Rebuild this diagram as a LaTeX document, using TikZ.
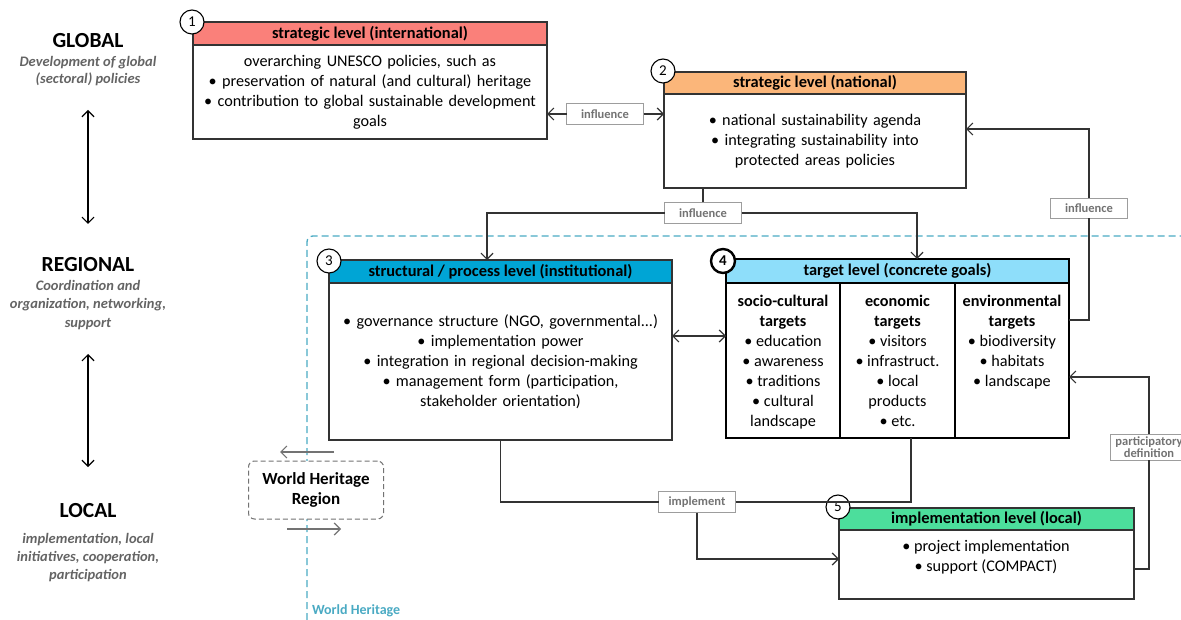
\documentclass[tikz,border=0pt]{standalone}
\usepackage{fontspec}
\setmainfont{Carlito}
\usetikzlibrary{arrows.meta,calc}
\definecolor{hA}{RGB}{250,128,122}
\definecolor{hB}{RGB}{251,182,122}
\definecolor{hC}{RGB}{0,165,213}
\definecolor{hD}{RGB}{142,222,250}
\definecolor{hE}{RGB}{76,222,156}
\definecolor{whc}{RGB}{74,170,195}
\definecolor{ln}{RGB}{51,51,51}
\definecolor{lbl}{RGB}{115,115,115}
\definecolor{subc}{RGB}{100,100,100}
\begin{document}
\begin{tikzpicture}[x=1pt,y=-1pt,
 every node/.style={inner sep=0pt, outer sep=0pt},
 hdr/.style={draw=ln, line width=1.3pt, anchor=north west, font=\fontsize{16.4}{18}\selectfont\bfseries},
 bodybox/.style={draw=ln, line width=1.3pt, fill=white, anchor=north west, align=center, font=\fontsize{16.2}{20}\selectfont},
 numc/.style={circle, draw=black, line width=1.1pt, fill=white, minimum size=24pt, font=\fontsize{15}{15}\selectfont},
 lab/.style={draw=lbl!70, line width=0.9pt, fill=white, text=lbl, font=\fontsize{12.5}{13}\selectfont\bfseries, minimum width=77pt, minimum height=21pt, align=center},
 conn/.style={draw=ln, line width=1.2pt},
 arr/.style={conn, -{Straight Barb[length=6pt,width=12pt,line width=1.2pt]}},
 darr/.style={conn, {Straight Barb[length=6pt,width=12pt,line width=1.2pt]}-{Straight Barb[length=6pt,width=12pt,line width=1.2pt]}},
 ttl/.style={font=\fontsize{21.5}{24}\selectfont\bfseries},
 subt/.style={align=center, text=subc, font=\fontsize{14.5}{18}\selectfont\bfseries\itshape},
 colt/.style={align=center, anchor=north, font=\fontsize{16.2}{20}\selectfont},
]
\useasboundingbox (0,0) rectangle (1181,620);

% World Heritage dashed border
\draw[whc, line width=1.3pt, dash pattern=on 7pt off 4pt, rounded corners=6pt] (307,620) -- (307,236) -- (1181,236);
\node[anchor=west, text=whc, font=\fontsize{14}{16}\selectfont\bfseries] (whl) at (312,611) {World Heritage};

% left column
\node[ttl] (gl) at (88,41) {GLOBAL};
\node[subt, font=\fontsize{14.5}{17}\selectfont\bfseries\itshape] (gls) at (88,71) {Development of global\\(sectoral) policies};
\node[ttl] (rg) at (88,265) {REGIONAL};
\node[subt, font=\fontsize{14.5}{18.5}\selectfont\bfseries\itshape] (rgs) at (88,305) {Coordination and\\organization, networking,\\support};
\node[ttl] (lc) at (88,511) {LOCAL};
\node[subt] (lcs) at (88,558) {implementation, local\\initiatives, cooperation,\\participation};
\coordinate (a1t) at (88,110);
\coordinate (a1b) at (88,224);
\coordinate (a2t) at (88,354);
\coordinate (a2b) at (88,467);
\draw[darr, draw=black] (a1t) -- (a1b);
\draw[darr, draw=black] (a2t) -- (a2b);

% Box 1
\node[hdr, fill=hA, minimum width=354pt, minimum height=23pt] (h1) at (193,22) {strategic level (international)};
\node[bodybox, minimum width=354pt, minimum height=94pt, text width=345pt] (b1) at (193,45) {overarching UNESCO policies, such as\\• preservation of natural (and cultural) heritage\\• contribution to global sustainable development\\goals};
\node[numc] (n1) at (192,22) {1};

% Box 2
\node[hdr, fill=hB, minimum width=302pt, minimum height=22pt] (h2) at (664,72) {strategic level (national)};
\node[bodybox, minimum width=302pt, minimum height=94pt, text width=290pt] (b2) at (664,94) {• national sustainability agenda\\• integrating sustainability into\\protected areas policies};
\node[numc] (n2) at (663,71) {2};

% Box 3
\node[hdr, fill=hC, minimum width=343pt, minimum height=23pt] (h3) at (329,260) {structural / process level (institutional)};
\node[bodybox, minimum width=343pt, minimum height=157pt, text width=335pt] (b3) at (329,283) {• governance structure (NGO, governmental...)\\• implementation power\\• integration in regional decision-making\\• management form (participation,\\stakeholder orientation)};
\node[numc] (n3) at (329,261) {3};

% Box 4
\node[hdr, draw=black, line width=2.6pt, fill=hD, minimum width=343pt, minimum height=24pt] (h4) at (726,259) {target level (concrete goals)};
\node[bodybox, draw=black, line width=2.6pt, minimum width=343pt, minimum height=155pt] (b4) at (726,283) {};
\coordinate (d1t) at (840,283);
\coordinate (d1b) at (840,438);
\coordinate (d2t) at (955,283);
\coordinate (d2b) at (955,438);
\draw[black, line width=2.6pt] (d1t) -- (d1b);
\draw[black, line width=2.6pt] (d2t) -- (d2b);
\node[colt] (c1) at (783,295) {\textbf{socio-cultural}\\\textbf{targets}\\• education\\• awareness\\• traditions\\• cultural\\landscape};
\node[colt] (c2) at (897.5,295) {\textbf{economic}\\\textbf{targets}\\• visitors\\• infrastruct.\\• local\\products\\• etc.};
\node[colt] (c3) at (1012,295) {\textbf{environmental}\\\textbf{targets}\\• biodiversity\\• habitats\\• landscape};
\node[numc, line width=2.4pt] (n4) at (723,261) {\textbf{4}};

% Box 5
\node[hdr, fill=hE, minimum width=295pt, minimum height=22pt] (h5) at (839,508) {implementation level (local)};
\node[bodybox, minimum width=295pt, minimum height=69pt] (b5) at (839,530) {};
\node[align=center, font=\fontsize{16.2}{20}\selectfont] (t5) at (986,557) {• project implementation\\• support (COMPACT)};
\node[numc] (n5) at (838,507) {5};

% World Heritage Region
\node[draw=lbl, line width=1pt, dash pattern=on 5pt off 3pt, rounded corners=6pt, fill=white, minimum width=135pt, minimum height=58pt, align=center, font=\fontsize{17}{20}\selectfont\bfseries] (whr) at (316,490) {World Heritage\\Region};
\coordinate (g1s) at (334,452);
\coordinate (g1e) at (280,452);
\coordinate (g2s) at (287,529);
\coordinate (g2e) at (341,529);
\draw[arr, draw=lbl] (g1s) -- (g1e);
\draw[arr, draw=lbl] (g2s) -- (g2e);

% influence 1 <-> 2
\node[lab] (L1) at (605,114) {influence};
\draw[arr] (L1.west) -- (L1.west -| b1.east);
\draw[arr] (L1.east) -- (L1.east -| b2.west);

% influence from 2 down
\node[lab] (L2) at (703,213) {influence};
\draw[conn] (L2.north) -- (L2.north |- b2.south);
\draw[arr] (L2.west) -| ([xshift=-13.5pt]h3.north);
\draw[arr] (L2.east) -| ([xshift=19.5pt]h4.north);

% influence from 4 to 2
\node[lab, minimum height=20pt] (L3) at (1089,208) {influence};
\coordinate (r4) at (1069,320);
\coordinate (r2) at (966,129);
\draw[conn] (r4) -| (L3.south);
\draw[arr] (L3.north) |- (r2);

% <-> 3 and 4
\coordinate (m3) at (672,336);
\coordinate (m4) at (726,336);
\draw[darr] (m3) -- (m4);

% participatory definition
\node[lab, minimum height=26pt, font=\fontsize{12.5}{12}\selectfont\bfseries] (L4) at (1149,447) {participatory\\definition};
\coordinate (p5) at (1134,569);
\coordinate (p4) at (1069,377);
\draw[conn] (p5) -| (L4.south);
\draw[arr] (L4.north) |- (p4);

% implement
\node[lab] (L5) at (697,502) {implement};
\draw[conn] (L5.west) -| (b3.south);
\draw[conn] (L5.east) -| ([xshift=13.5pt]b4.south);
\coordinate (i5) at (839,559);
\draw[arr] (L5.south) |- (i5);
\end{tikzpicture}
\end{document}
